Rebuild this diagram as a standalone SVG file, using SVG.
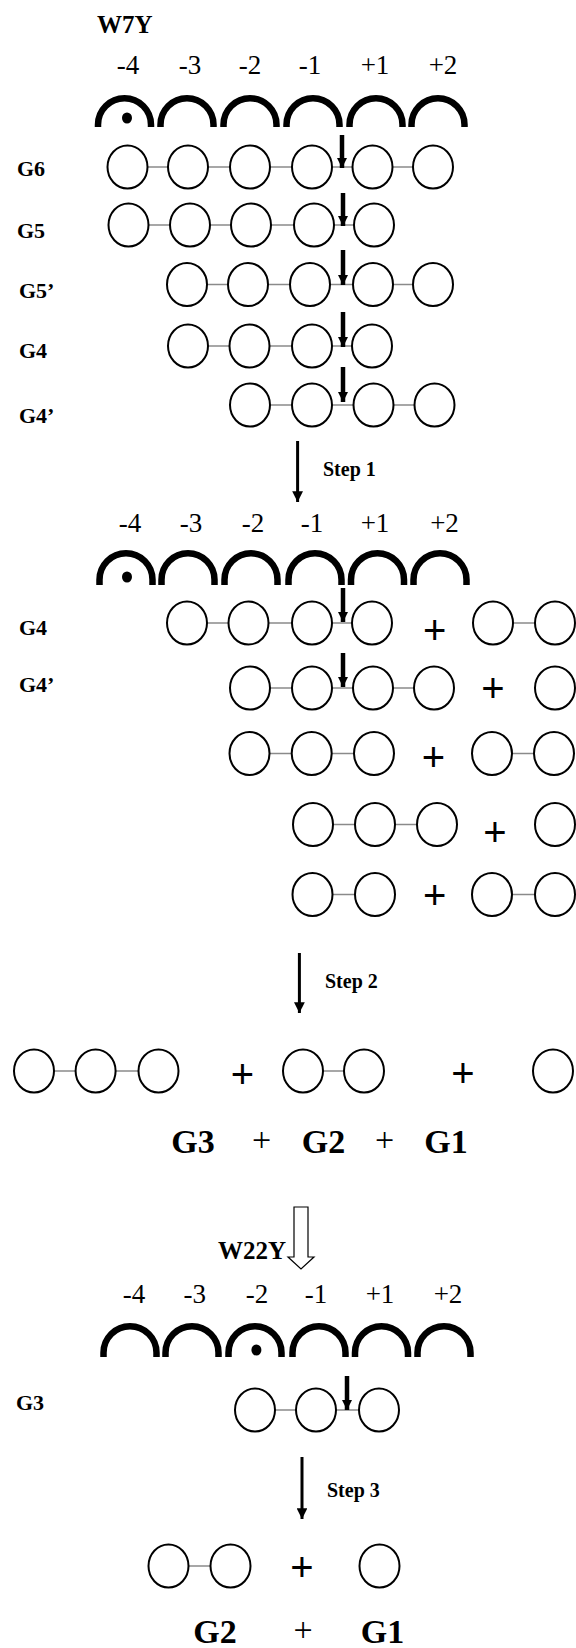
<svg xmlns="http://www.w3.org/2000/svg" width="576" height="1648" viewBox="0 0 576 1648">
<defs>
<style>
.bg{fill:#fff}
.c{fill:#fff;stroke:#000;stroke-width:2}
.l{stroke:#8a8a8a;stroke-width:1.3}
.arc{fill:none;stroke:#000;stroke-width:6.5;stroke-linecap:butt}
.num{font-family:"Liberation Serif",serif;font-size:27px;fill:#000;text-anchor:middle}
.lab{font-family:"Liberation Serif",serif;font-weight:bold;font-size:22px;fill:#000}
.mut{font-family:"Liberation Serif",serif;font-weight:bold;font-size:25px;fill:#000}
.step{font-family:"Liberation Serif",serif;font-weight:bold;font-size:20px;fill:#000}
.big{font-family:"Liberation Serif",serif;font-weight:bold;font-size:34px;fill:#000;text-anchor:middle}
.plus{font-family:"Liberation Sans",sans-serif;font-size:40px;fill:#000;text-anchor:middle}
.plus2{font-family:"Liberation Serif",serif;font-size:34px;fill:#000;text-anchor:middle}
.cut{stroke:#000;stroke-width:4.5}
.stp{stroke:#000;stroke-width:3}
.dot{fill:#000}
</style>
<marker id="hc" viewBox="0 0 10 10" refX="10" refY="5" markerWidth="2.3" markerHeight="2.3" orient="auto" markerUnits="strokeWidth"><path d="M0,0 L10,5 L0,10 Z" fill="#000"/></marker>
<marker id="hs" viewBox="0 0 10 10" refX="10" refY="5" markerWidth="4" markerHeight="3.6" orient="auto" markerUnits="strokeWidth"><path d="M0,0 L10,5 L0,10 Z" fill="#000"/></marker>
</defs>
<rect class="bg" x="0" y="0" width="576" height="1648"/>

<!-- Section 1: W7Y -->
<g id="w7y-site">
<text class="mut" x="97" y="33">W7Y</text>
<text class="num" x="128" y="74">-4</text>
<text class="num" x="190" y="74">-3</text>
<text class="num" x="250" y="74">-2</text>
<text class="num" x="310" y="74">-1</text>
<text class="num" x="375" y="74">+1</text>
<text class="num" x="443" y="74">+2</text>
<path class="arc" d="M98,127 V124.75 A26.5,26.5 0 0 1 151,124.75 V127"/>
<path class="arc" d="M160.5,127 V124.75 A26.5,26.5 0 0 1 213.5,124.75 V127"/>
<path class="arc" d="M223.5,127 V124.75 A26.5,26.5 0 0 1 276.5,124.75 V127"/>
<path class="arc" d="M286.5,127 V124.75 A26.5,26.5 0 0 1 339.5,124.75 V127"/>
<path class="arc" d="M349.5,127 V124.75 A26.5,26.5 0 0 1 402.5,124.75 V127"/>
<path class="arc" d="M411.5,127 V124.75 A26.5,26.5 0 0 1 464.5,124.75 V127"/>
<ellipse class="dot" cx="127" cy="118" rx="5" ry="5.5"/>
</g>

<g id="G6">
<text class="lab" x="17" y="176">G6</text>
<line class="l" x1="127.5" y1="167" x2="433" y2="167"/>
<ellipse class="c" cx="127.5" cy="167" rx="20" ry="21.5"/>
<ellipse class="c" cx="188" cy="167" rx="20" ry="21.5"/>
<ellipse class="c" cx="250" cy="167" rx="20" ry="21.5"/>
<ellipse class="c" cx="312" cy="167" rx="20" ry="21.5"/>
<ellipse class="c" cx="372.5" cy="167" rx="20" ry="21.5"/>
<ellipse class="c" cx="433" cy="167" rx="20" ry="21.5"/>
</g>
<g id="G5">
<text class="lab" x="17" y="238">G5</text>
<line class="l" x1="128.5" y1="225" x2="374" y2="225"/>
<ellipse class="c" cx="128.5" cy="225" rx="20" ry="21.5"/>
<ellipse class="c" cx="190" cy="225" rx="20" ry="21.5"/>
<ellipse class="c" cx="251" cy="225" rx="20" ry="21.5"/>
<ellipse class="c" cx="314" cy="225" rx="20" ry="21.5"/>
<ellipse class="c" cx="374" cy="225" rx="20" ry="21.5"/>
</g>
<g id="G5p">
<text class="lab" x="19" y="298">G5’</text>
<line class="l" x1="187" y1="284.5" x2="433" y2="284.5"/>
<ellipse class="c" cx="187" cy="284.5" rx="20" ry="21.5"/>
<ellipse class="c" cx="248" cy="284.5" rx="20" ry="21.5"/>
<ellipse class="c" cx="310" cy="284.5" rx="20" ry="21.5"/>
<ellipse class="c" cx="373" cy="284.5" rx="20" ry="21.5"/>
<ellipse class="c" cx="433" cy="284.5" rx="20" ry="21.5"/>
</g>
<g id="G4">
<text class="lab" x="19" y="358">G4</text>
<line class="l" x1="188" y1="346" x2="372" y2="346"/>
<ellipse class="c" cx="188" cy="346" rx="20" ry="21.5"/>
<ellipse class="c" cx="249.5" cy="346" rx="20" ry="21.5"/>
<ellipse class="c" cx="312" cy="346" rx="20" ry="21.5"/>
<ellipse class="c" cx="372" cy="346" rx="20" ry="21.5"/>
</g>
<g id="G4p">
<text class="lab" x="19" y="423">G4’</text>
<line class="l" x1="250" y1="405" x2="434.5" y2="405"/>
<ellipse class="c" cx="250" cy="405" rx="20" ry="21.5"/>
<ellipse class="c" cx="312" cy="405" rx="20" ry="21.5"/>
<ellipse class="c" cx="373.5" cy="405" rx="20" ry="21.5"/>
<ellipse class="c" cx="434.5" cy="405" rx="20" ry="21.5"/>
</g>

<g id="step1-label"><text class="step" x="323" y="476">Step 1</text></g>

<!-- Section 2 -->
<g id="site-2">
<text class="num" x="130" y="532">-4</text>
<text class="num" x="191" y="532">-3</text>
<text class="num" x="253" y="532">-2</text>
<text class="num" x="312" y="532">-1</text>
<text class="num" x="375" y="532">+1</text>
<text class="num" x="444.5" y="532">+2</text>
<path class="arc" d="M99.5,585 V579.75 A26.5,26.5 0 0 1 152.5,579.75 V585"/>
<path class="arc" d="M161.5,585 V579.75 A26.5,26.5 0 0 1 214.5,579.75 V585"/>
<path class="arc" d="M224.5,585 V579.75 A26.5,26.5 0 0 1 277.5,579.75 V585"/>
<path class="arc" d="M288.5,585 V579.75 A26.5,26.5 0 0 1 341.5,579.75 V585"/>
<path class="arc" d="M351,585 V579.75 A26.5,26.5 0 0 1 404,579.75 V585"/>
<path class="arc" d="M413.5,585 V579.75 A26.5,26.5 0 0 1 466.5,579.75 V585"/>
<ellipse class="dot" cx="127" cy="577" rx="5" ry="5.5"/>
</g>

<g id="G4-cut">
<text class="lab" x="19" y="635">G4</text>
<line class="l" x1="187" y1="623" x2="372" y2="623"/>
<line class="l" x1="493" y1="623" x2="555" y2="623"/>
<ellipse class="c" cx="187" cy="623" rx="20" ry="21.5"/>
<ellipse class="c" cx="248.5" cy="623" rx="20" ry="21.5"/>
<ellipse class="c" cx="312" cy="623" rx="20" ry="21.5"/>
<ellipse class="c" cx="372" cy="623" rx="20" ry="21.5"/>
<text class="plus" x="434.6" y="644">+</text>
<ellipse class="c" cx="493" cy="623" rx="20" ry="21.5"/>
<ellipse class="c" cx="555" cy="623" rx="20" ry="21.5"/>
</g>
<g id="G4p-cut">
<text class="lab" x="19" y="692">G4’</text>
<line class="l" x1="250" y1="688" x2="434" y2="688"/>
<ellipse class="c" cx="250" cy="688" rx="20" ry="21.5"/>
<ellipse class="c" cx="312" cy="688" rx="20" ry="21.5"/>
<ellipse class="c" cx="373" cy="688" rx="20" ry="21.5"/>
<ellipse class="c" cx="434" cy="688" rx="20" ry="21.5"/>
<text class="plus" x="493" y="702">+</text>
<ellipse class="c" cx="555" cy="688" rx="20" ry="21.5"/>
</g>
<g id="prod-3-2">
<line class="l" x1="249.5" y1="753.5" x2="374" y2="753.5"/>
<line class="l" x1="492" y1="753.5" x2="554" y2="753.5"/>
<ellipse class="c" cx="249.5" cy="753.5" rx="20" ry="21.5"/>
<ellipse class="c" cx="311.7" cy="753.5" rx="20" ry="21.5"/>
<ellipse class="c" cx="374" cy="753.5" rx="20" ry="21.5"/>
<text class="plus" x="433.5" y="771">+</text>
<ellipse class="c" cx="492" cy="753.5" rx="20" ry="21.5"/>
<ellipse class="c" cx="554" cy="753.5" rx="20" ry="21.5"/>
</g>
<g id="prod-3-1">
<line class="l" x1="313" y1="824.5" x2="437" y2="824.5"/>
<ellipse class="c" cx="313" cy="824.5" rx="20" ry="21.5"/>
<ellipse class="c" cx="375" cy="824.5" rx="20" ry="21.5"/>
<ellipse class="c" cx="437" cy="824.5" rx="20" ry="21.5"/>
<text class="plus" x="495" y="846">+</text>
<ellipse class="c" cx="555" cy="824.5" rx="20" ry="21.5"/>
</g>
<g id="prod-2-2">
<line class="l" x1="312.5" y1="894.5" x2="375" y2="894.5"/>
<line class="l" x1="492" y1="894.5" x2="555" y2="894.5"/>
<ellipse class="c" cx="312.5" cy="894.5" rx="20" ry="21.5"/>
<ellipse class="c" cx="375" cy="894.5" rx="20" ry="21.5"/>
<text class="plus" x="434.6" y="909">+</text>
<ellipse class="c" cx="492" cy="894.5" rx="20" ry="21.5"/>
<ellipse class="c" cx="555" cy="894.5" rx="20" ry="21.5"/>
</g>

<g id="step2-label"><text class="step" x="325" y="988">Step 2</text></g>

<g id="products-2">
<line class="l" x1="34" y1="1071" x2="158.5" y2="1071"/>
<line class="l" x1="303" y1="1071" x2="364" y2="1071"/>
<ellipse class="c" cx="34" cy="1071" rx="20" ry="21.5"/>
<ellipse class="c" cx="95.6" cy="1071" rx="20" ry="21.5"/>
<ellipse class="c" cx="158.5" cy="1071" rx="20" ry="21.5"/>
<text class="plus" x="242.5" y="1088">+</text>
<ellipse class="c" cx="303" cy="1071" rx="20" ry="21.5"/>
<ellipse class="c" cx="364" cy="1071" rx="20" ry="21.5"/>
<text class="plus" x="463" y="1087">+</text>
<ellipse class="c" cx="553" cy="1071" rx="20" ry="21.5"/>
</g>
<g id="products-2-labels">
<text class="big" x="193" y="1153">G3</text>
<text class="plus2" x="261.6" y="1151">+</text>
<text class="big" x="323.5" y="1153">G2</text>
<text class="plus2" x="384.6" y="1151">+</text>
<text class="big" x="446" y="1153">G1</text>
</g>

<!-- Section 3 -->
<g id="w22y-site">
<text class="mut" x="218" y="1259">W22Y</text>
<text class="num" x="134" y="1303">-4</text>
<text class="num" x="194.7" y="1303">-3</text>
<text class="num" x="257" y="1303">-2</text>
<text class="num" x="316" y="1303">-1</text>
<text class="num" x="380" y="1303">+1</text>
<text class="num" x="448" y="1303">+2</text>
<path class="arc" d="M103.5,1357 V1352.75 A26.5,26.5 0 0 1 156.5,1352.75 V1357"/>
<path class="arc" d="M165.5,1357 V1352.75 A26.5,26.5 0 0 1 218.5,1352.75 V1357"/>
<path class="arc" d="M228.5,1357 V1352.75 A26.5,26.5 0 0 1 281.5,1352.75 V1357"/>
<path class="arc" d="M292.5,1357 V1352.75 A26.5,26.5 0 0 1 345.5,1352.75 V1357"/>
<path class="arc" d="M355,1357 V1352.75 A26.5,26.5 0 0 1 408,1352.75 V1357"/>
<path class="arc" d="M417.5,1357 V1352.75 A26.5,26.5 0 0 1 470.5,1352.75 V1357"/>
<ellipse class="dot" cx="256.4" cy="1350" rx="5" ry="5.5"/>
</g>
<g id="G3">
<text class="lab" x="16" y="1410">G3</text>
<line class="l" x1="255" y1="1410" x2="379" y2="1410"/>
<ellipse class="c" cx="255" cy="1410" rx="20" ry="21.5"/>
<ellipse class="c" cx="316" cy="1410" rx="20" ry="21.5"/>
<ellipse class="c" cx="379" cy="1410" rx="20" ry="21.5"/>
</g>

<g id="step3-label"><text class="step" x="327" y="1497">Step 3</text></g>

<g id="products-3">
<line class="l" x1="168.5" y1="1566" x2="230.5" y2="1566"/>
<ellipse class="c" cx="168.5" cy="1566" rx="20" ry="21.5"/>
<ellipse class="c" cx="230.5" cy="1566" rx="20" ry="21.5"/>
<text class="plus" x="302" y="1581">+</text>
<ellipse class="c" cx="379.5" cy="1566" rx="20" ry="21.5"/>
</g>
<g id="products-3-labels">
<text class="big" x="215" y="1643">G2</text>
<text class="plus2" x="303" y="1641">+</text>
<text class="big" x="382.5" y="1643">G1</text>
</g>

<!-- Connectors -->
<g id="connectors">
<line class="cut" x1="342" y1="135" x2="342" y2="168" marker-end="url(#hc)"/>
<line class="cut" x1="343" y1="193" x2="343" y2="226" marker-end="url(#hc)"/>
<line class="cut" x1="343" y1="250" x2="343" y2="285" marker-end="url(#hc)"/>
<line class="cut" x1="343" y1="312" x2="343" y2="347" marker-end="url(#hc)"/>
<line class="cut" x1="343" y1="367" x2="343" y2="402" marker-end="url(#hc)"/>
<line class="cut" x1="343" y1="588" x2="343" y2="622" marker-end="url(#hc)"/>
<line class="cut" x1="343" y1="653" x2="343" y2="687" marker-end="url(#hc)"/>
<line class="cut" x1="347" y1="1376" x2="347" y2="1410" marker-end="url(#hc)"/>
<line class="stp" x1="297.6" y1="441" x2="297.6" y2="502" marker-end="url(#hs)"/>
<line class="stp" x1="299.4" y1="953" x2="299.4" y2="1013" marker-end="url(#hs)"/>
<line class="stp" x1="302" y1="1457" x2="302" y2="1519" marker-end="url(#hs)"/>
<path d="M294,1207 H308 V1257 H314 L301,1269 L288,1257 H294 Z" fill="#fff" stroke="#000" stroke-width="1.2"/>
</g>
</svg>
